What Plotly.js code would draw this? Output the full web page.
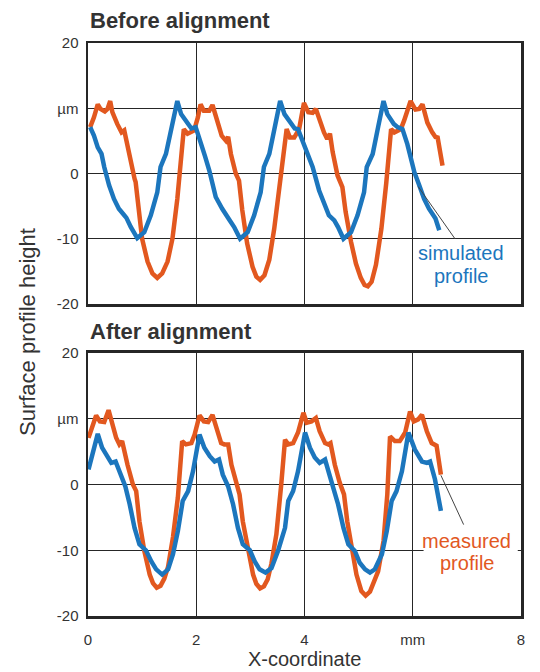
<!DOCTYPE html>
<html>
<head>
<meta charset="utf-8">
<script src="https://cdn.plot.ly/plotly-3.0.1.min.js"></script>
<style>html,body{margin:0;padding:0;background:#fff;}#chart{width:540px;height:672px;}</style>
</head>
<body>
<div id="chart"></div>
<script>
// ---- Data ----
// Before alignment: measured profile (orange)
var beforeMeasuredX = [0.04,0.11,0.18,0.23,0.31,0.36,0.41,0.45,0.54,0.62,0.67,0.70,0.79,0.86,0.88,0.94,1.00,1.10,1.19,1.28,1.37,1.47,1.56,1.65,1.72,1.77,1.84,1.90,1.96,2.03,2.08,2.14,2.24,2.30,2.36,2.47,2.55,2.59,2.64,2.73,2.79,2.85,2.94,3.04,3.11,3.18,3.26,3.35,3.44,3.53,3.61,3.67,3.73,3.81,3.90,3.99,4.07,4.15,4.21,4.27,4.36,4.42,4.47,4.52,4.61,4.70,4.76,4.86,4.95,5.04,5.11,5.17,5.24,5.32,5.42,5.51,5.60,5.66,5.73,5.78,5.84,5.96,6.05,6.12,6.18,6.27,6.36,6.42,6.46,6.55];
var beforeMeasuredY = [7.1,8.6,10.6,9.9,9.5,9.9,11.1,9.4,7.6,6.3,6.6,5.3,2.0,-0.8,-1.3,-5.9,-10.0,-13.5,-15.3,-16.0,-15.3,-13.5,-10.0,-3.9,2.2,6.8,6.1,6.3,6.6,8.6,10.6,9.6,9.6,10.5,8.6,5.8,5.0,5.6,3.0,0.0,-1.1,-5.6,-10.7,-14.3,-15.8,-16.3,-15.6,-13.2,-8.5,-2.0,3.5,6.8,5.5,5.5,6.8,10.8,9.4,9.3,9.9,8.3,6.3,5.3,6.1,3.3,-0.3,-2.1,-5.9,-10.5,-13.8,-16.0,-17.1,-17.3,-16.6,-14.0,-8.5,-1.5,6.8,6.3,6.6,6.8,8.1,11.1,9.8,9.9,10.6,7.8,6.3,5.6,5.5,1.2];
// Before alignment: simulated profile (blue)
var beforeSimX = [0.04,0.11,0.18,0.25,0.30,0.39,0.48,0.57,0.67,0.71,0.79,0.91,1.04,1.16,1.28,1.34,1.44,1.54,1.65,1.72,1.84,1.91,1.99,2.08,2.16,2.24,2.36,2.48,2.57,2.62,2.70,2.81,2.95,3.07,3.19,3.25,3.35,3.45,3.55,3.63,3.75,3.82,3.88,4.02,4.15,4.27,4.38,4.45,4.55,4.62,4.72,4.86,4.98,5.10,5.15,5.26,5.36,5.46,5.53,5.65,5.72,5.81,5.90,5.98,6.03,6.12,6.21,6.30,6.38,6.42,6.49];
var beforeSimY = [7.1,5.8,4.0,3.0,1.0,-1.8,-3.9,-5.4,-6.4,-6.8,-8.2,-9.9,-9.0,-6.4,-2.9,1.0,3.0,7.1,11.1,9.1,7.6,6.9,7.1,5.0,2.7,0.5,-3.6,-5.4,-6.4,-7.2,-8.2,-10.0,-9.0,-6.4,-2.9,1.0,3.0,7.1,11.1,9.1,7.6,6.9,6.8,4.0,1.0,-2.6,-5.0,-6.4,-7.2,-8.2,-10.0,-9.0,-6.4,-2.9,1.0,3.0,7.1,11.1,9.1,7.6,7.1,6.8,4.5,2.0,0.2,-1.8,-3.9,-5.4,-6.4,-6.9,-8.7];
// After alignment: measured profile (orange)
var afterMeasuredX = [0.01,0.07,0.15,0.22,0.30,0.38,0.44,0.52,0.58,0.63,0.73,0.83,0.89,0.95,1.04,1.14,1.20,1.27,1.34,1.41,1.48,1.57,1.66,1.74,1.81,1.91,1.97,2.06,2.14,2.22,2.30,2.37,2.46,2.52,2.59,2.65,2.74,2.80,2.86,2.96,3.05,3.11,3.18,3.25,3.32,3.39,3.48,3.57,3.64,3.70,3.79,3.88,3.98,4.04,4.13,4.21,4.28,4.38,4.44,4.48,4.56,4.65,4.73,4.79,4.87,4.96,5.05,5.13,5.21,5.29,5.36,5.46,5.53,5.58,5.67,5.76,5.86,5.95,6.02,6.10,6.17,6.26,6.35,6.44,6.52];
var afterMeasuredY = [7.1,8.4,10.5,9.6,9.5,11.3,9.4,7.1,6.1,6.6,3.0,0.0,-1.0,-5.6,-10.1,-13.7,-15.0,-15.7,-15.4,-14.3,-12.5,-8.0,-2.0,6.6,6.1,6.3,7.6,10.5,9.6,9.5,10.6,8.6,6.3,6.1,6.1,3.0,0.0,-1.5,-5.6,-10.1,-13.7,-15.1,-15.8,-15.5,-14.4,-12.0,-7.6,0.0,6.8,6.1,6.3,7.9,10.9,9.4,9.6,10.1,8.1,6.3,6.1,6.3,3.0,0.3,-1.5,-5.6,-9.6,-13.7,-16.2,-16.9,-16.3,-14.8,-13.2,-8.6,-1.5,7.3,6.6,6.6,7.9,11.1,9.6,9.9,10.6,8.1,6.3,5.9,1.5];
// After alignment: simulated profile (blue)
var afterSimX = [0.01,0.09,0.18,0.26,0.33,0.43,0.51,0.61,0.69,0.77,0.86,0.95,1.07,1.17,1.26,1.37,1.48,1.57,1.66,1.75,1.85,1.94,2.06,2.15,2.25,2.34,2.42,2.49,2.59,2.68,2.77,2.86,2.99,3.08,3.17,3.28,3.39,3.51,3.64,3.70,3.79,3.88,4.01,4.10,4.19,4.28,4.38,4.46,4.53,4.62,4.72,4.81,4.93,5.02,5.12,5.21,5.30,5.43,5.52,5.61,5.70,5.80,5.92,6.04,6.17,6.26,6.32,6.41,6.52];
var afterSimY = [2.3,5.1,7.7,5.6,4.6,3.3,3.5,1.5,-0.3,-3.0,-6.6,-9.1,-10.0,-11.7,-12.9,-13.7,-12.9,-10.6,-7.1,-2.5,-1.0,2.0,7.6,5.6,4.3,3.5,3.8,1.5,-0.3,-3.0,-6.6,-9.1,-10.0,-11.7,-12.9,-13.4,-12.7,-10.1,-6.6,-2.5,-1.0,2.0,7.9,5.6,4.1,3.3,3.8,1.5,-0.3,-3.0,-6.6,-9.1,-10.1,-11.9,-12.9,-13.4,-12.9,-10.6,-7.1,-2.5,-1.0,2.0,7.9,5.3,3.5,3.3,3.5,0.8,-4.0];

// Tick labels
var xTickVals = [0, 2, 4, 6, 8];
var xTickText = ['0', '2', '4', 'mm', '8'];
var yTickVals = [-20, -10, 0, 10, 20];
var yTickText = ['-20', '-10', '0', 'µm', '20'];

// ---- Styles ----
var ORANGE = '#e2581f';
var BLUE = '#1c76bd';
var FONT = 'Liberation Sans, Arial, sans-serif';
var GRID = '#262626';

function line(x, y, color, xa, ya, name) {
  return {x: x, y: y, xaxis: xa, yaxis: ya, type: 'scatter', mode: 'lines', name: name,
          line: {color: color, width: 4.5, shape: 'linear'}, showlegend: false, hoverinfo: 'skip'};
}

var data = [
  line(beforeMeasuredX, beforeMeasuredY, ORANGE, 'x', 'y', 'measured profile'),
  line(beforeSimX, beforeSimY, BLUE, 'x', 'y', 'simulated profile'),
  line(afterMeasuredX, afterMeasuredY, ORANGE, 'x2', 'y2', 'measured profile'),
  line(afterSimX, afterSimY, BLUE, 'x2', 'y2', 'simulated profile')
];

function xAxis(anchor, showLabels) {
  return {domain: [0, 1], anchor: anchor, range: [0, 8], tickmode: 'array', tickvals: xTickVals, ticktext: xTickText,
          showticklabels: showLabels, ticks: '', showgrid: true, gridcolor: GRID, gridwidth: 1.3,
          zeroline: false, showline: true, mirror: true, linecolor: GRID, linewidth: 2.5,
          tickfont: {family: FONT, size: 15, color: '#333'}, ticklabelstandoff: 8, fixedrange: true};
}
function yAxis(anchor, domain) {
  return {domain: domain, anchor: anchor, range: [-20, 20], tickmode: 'array', tickvals: yTickVals, ticktext: yTickText,
          ticks: '', showgrid: true, gridcolor: GRID, gridwidth: 1.3,
          zeroline: false, showline: true, mirror: true, linecolor: GRID, linewidth: 2.5,
          tickfont: {family: FONT, size: 15, color: '#333'}, ticklabelstandoff: 4, fixedrange: true};
}

var labelFont = function (c) { return {family: FONT, size: 20, color: c}; };

var layout = {
  width: 540, height: 672,
  margin: {l: 88, r: 19, t: 43, b: 56},
  paper_bgcolor: '#ffffff', plot_bgcolor: '#ffffff',
  showlegend: false,
  xaxis: xAxis('y', false),
  yaxis: yAxis('x', [0.5445, 1]),
  xaxis2: xAxis('y2', true),
  yaxis2: yAxis('x2', [0, 0.459]),
  shapes: [
    // leader lines
    {type: 'line', xref: 'x', yref: 'y', x0: 6.10, y0: -2.0, x1: 6.78, y1: -10.0, line: {color: '#444', width: 1}, layer: 'above'},
    {type: 'line', xref: 'x2', yref: 'y2', x0: 6.52, y0: 1.4, x1: 6.94, y1: -6.1, line: {color: '#444', width: 1}, layer: 'above'},
    // white backing behind the "measured profile" label (hides the gridline)
    {type: 'rect', xref: 'x2', yref: 'y2', x0: 6.20, x1: 7.94, y0: -9.2, y1: -10.8, fillcolor: '#ffffff', line: {width: 0}, layer: 'above'}
  ],
  annotations: [
    {text: '<b>Before alignment</b>', xref: 'paper', yref: 'paper', x: 0, y: 1.0384, xanchor: 'left', yanchor: 'middle',
     showarrow: false, font: {family: FONT, size: 22, color: '#333'}},
    {text: '<b>After alignment</b>', xref: 'paper', yref: 'paper', x: 0, y: 0.497, xanchor: 'left', yanchor: 'middle',
     showarrow: false, font: {family: FONT, size: 22, color: '#333'}},
    {text: 'Surface profile height', xref: 'paper', yref: 'paper', x: -0.1409, y: 0.4956, xanchor: 'center', yanchor: 'middle',
     textangle: -90, showarrow: false, font: {family: FONT, size: 22, color: '#333'}},
    {text: 'X-coordinate', xref: 'paper', yref: 'paper', x: 0.499, y: -0.0755, xanchor: 'center', yanchor: 'middle',
     showarrow: false, font: {family: FONT, size: 20, color: '#333'}},
    {text: 'simulated', xref: 'x', yref: 'y', x: 6.89, y: -12.2, xanchor: 'center', yanchor: 'middle', showarrow: false, font: labelFont(BLUE)},
    {text: 'profile', xref: 'x', yref: 'y', x: 6.89, y: -15.7, xanchor: 'center', yanchor: 'middle', showarrow: false, font: labelFont(BLUE)},
    {text: 'measured', xref: 'x2', yref: 'y2', x: 7.0, y: -8.62, xanchor: 'center', yanchor: 'middle', showarrow: false, font: labelFont(ORANGE)},
    {text: 'profile', xref: 'x2', yref: 'y2', x: 7.0, y: -11.9, xanchor: 'center', yanchor: 'middle', showarrow: false, font: labelFont(ORANGE)}
  ]
};

Plotly.newPlot('chart', data, layout, {staticPlot: true, displayModeBar: false});
</script>
</body>
</html>
